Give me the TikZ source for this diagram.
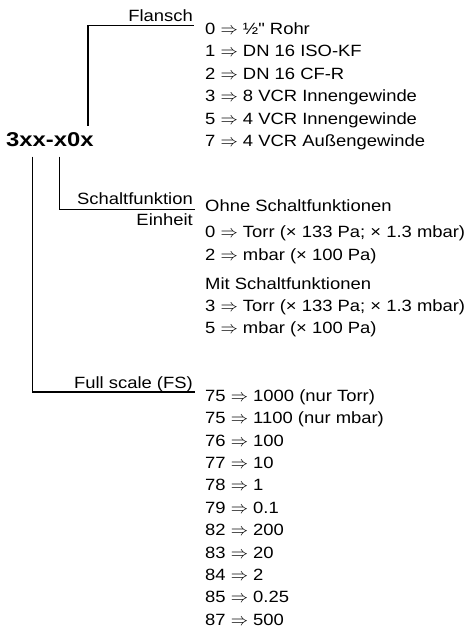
\documentclass[tikz,border=0pt]{standalone}
\usepackage{fontspec}
\setmainfont[FakeStretch=1.13,Ligatures=TeXOff]{Liberation Sans}
\newfontfamily\titlefont[FakeStretch=1.19,Ligatures=TeXOff]{Liberation Sans}
\newcommand\myarr{$\Rightarrow$}
\begin{document}
\begin{tikzpicture}[x=1pt,y=-1pt,
  lbl/.style={inner sep=0pt, anchor=base east, font=\fontsize{16.3}{19}\selectfont},
  item/.style={inner sep=0pt, anchor=base west, font=\fontsize{16.3}{19}\selectfont},
  conn/.style={line width=1.6pt, line cap=butt, line join=miter}]
\useasboundingbox (0,0) rectangle (473,628);
% code
\node[inner sep=0pt, anchor=base west, font=\titlefont\bfseries\fontsize{20}{24}\selectfont] (title) at (6,146.7) {3xx-x0x};
% connector end points
\coordinate (fa) at (87.7,126);
\coordinate (fb) at (194,25.7);
\coordinate (sa) at (59.3,156.7);
\coordinate (sb) at (194.5,209.5);
\coordinate (ua) at (32.3,156.7);
\coordinate (ub) at (195,391.7);
\draw[conn] (fa) |- (fb);
\draw[conn] (sa) |- (sb);
\draw[conn] (ua) |- (ub);
% labels
\node[lbl] (flansch) at (193,22) {Flansch};
\node[lbl] (schalt) at (193,204.3) {Schaltfunktion};
\node[lbl] (einheit) at (193,225.5) {Einheit};
\node[lbl] (fs) at (193,388) {Full scale (FS)};
% Flansch list
\node[item] (f1) at (205,34.3) {0 \myarr{} ½" Rohr};
\node[item] (f2) at (205,56.8) {1 \myarr{} DN 16 ISO-KF};
\node[item] (f3) at (205,79.3) {2 \myarr{} DN 16 CF-R};
\node[item] (f4) at (205,101.8) {3 \myarr{} 8 VCR Innengewinde};
\node[item] (f5) at (205,124.3) {5 \myarr{} 4 VCR Innengewinde};
\node[item] (f6) at (205,146.8) {7 \myarr{} 4 VCR Außengewinde};
% Einheit list
\node[item] (e1) at (205,211.5) {Ohne Schaltfunktionen};
\node[item] (e2) at (205,237.5) {0 \myarr{} Torr (× 133 Pa; × 1.3 mbar)};
\node[item] (e3) at (205,260) {2 \myarr{} mbar (× 100 Pa)};
\node[item] (e4) at (205,289) {Mit Schaltfunktionen};
\node[item] (e5) at (205,311) {3 \myarr{} Torr (× 133 Pa; × 1.3 mbar)};
\node[item] (e6) at (205,333.5) {5 \myarr{} mbar (× 100 Pa)};
% Full scale list
\node[item] (s1) at (205,401.3) {75 \myarr{} 1000 (nur Torr)};
\node[item] (s2) at (205,423.7) {75 \myarr{} 1100 (nur mbar)};
\node[item] (s3) at (205,446.1) {76 \myarr{} 100};
\node[item] (s4) at (205,468.5) {77 \myarr{} 10};
\node[item] (s5) at (205,490.9) {78 \myarr{} 1};
\node[item] (s6) at (205,513.3) {79 \myarr{} 0.1};
\node[item] (s7) at (205,535.7) {82 \myarr{} 200};
\node[item] (s8) at (205,558.1) {83 \myarr{} 20};
\node[item] (s9) at (205,580.5) {84 \myarr{} 2};
\node[item] (s10) at (205,602.9) {85 \myarr{} 0.25};
\node[item] (s11) at (205,625.3) {87 \myarr{} 500};
\end{tikzpicture}
\end{document}
